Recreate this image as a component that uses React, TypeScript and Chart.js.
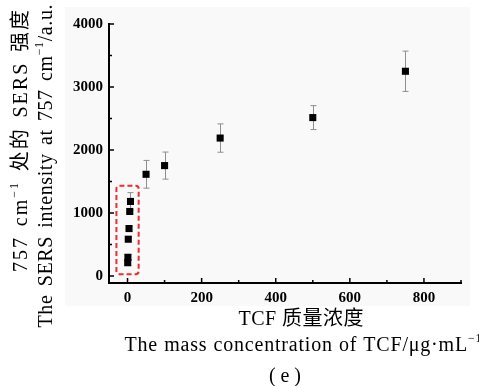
import React, { useEffect, useRef } from 'react';
import { Chart, registerables } from 'chart.js';

Chart.register(...registerables);

// ---- data ----
const concentrations = [0.5, 1, 2, 4, 6, 8, 50, 100, 250, 500, 750];
const intensities = [212, 298, 585, 754, 1025, 1184, 1615, 1753, 2190, 2515, 3250];
const errors = [40, 40, 40, 40, 40, 140, 220, 215, 225, 190, 320];
const xTickValues = [0, 200, 400, 600, 800];
const xMinorValues = [100, 300, 500, 700, 900];
const yTickValues = [0, 1000, 2000, 3000, 4000];
const yMinorValues = [500, 1500, 2500, 3500];
const boxXRange = [-30, 30];
const boxYRange = [30, 1435];

type Seg = { t: string; sup?: boolean };
const yTitleCN: Seg[] = [{ t: '757 cm' }, { t: '−1', sup: true }, { t: ' 处的 SERS 强度' }];
const yTitleEN: Seg[] = [{ t: 'The SERS intensity at 757 cm' }, { t: '−1', sup: true }, { t: '/a.u.' }];
const xTitleCN: Seg[] = [{ t: 'TCF 质量浓度' }];
const xTitleEN: Seg[] = [{ t: 'The mass concentration of TCF/μg·mL' }, { t: '−1', sup: true }];
const caption: Seg[] = [{ t: '(e)' }];

const FONT = '"Liberation Serif", "Noto Sans CJK SC", serif';

function drawRich(
  ctx: CanvasRenderingContext2D,
  segs: Seg[],
  cx: number,
  cy: number,
  size: number,
  target: number,
  angle: number,
  letterGap: number
) {
  ctx.save();
  ctx.translate(cx, cy);
  ctx.rotate(angle);
  const fontFor = (sup: boolean) => `${sup ? size * 0.6 : size}px ${FONT}`;
  const chars: { ch: string; sup: boolean; w: number }[] = [];
  segs.forEach((s) => {
    for (const ch of s.t) chars.push({ ch, sup: !!s.sup, w: 0 });
  });
  let natural = 0;
  chars.forEach((c) => {
    ctx.font = fontFor(c.sup);
    c.w = ctx.measureText(c.ch).width;
    natural += c.w;
  });
  natural += letterGap * (chars.length - 1);
  const spaces = chars.filter((c) => c.ch === ' ').length;
  let wordGap = 0;
  let extraLetter = 0;
  if (target > natural) {
    if (spaces > 0) wordGap = (target - natural) / spaces;
    else extraLetter = (target - natural) / Math.max(1, chars.length - 1);
  }
  const total = Math.max(target, natural);
  let x = -total / 2;
  ctx.textBaseline = 'middle';
  ctx.textAlign = 'left';
  ctx.fillStyle = '#000';
  chars.forEach((c) => {
    ctx.font = fontFor(c.sup);
    ctx.fillText(c.ch, x, c.sup ? -size * 0.35 : 0);
    x += c.w + letterGap + extraLetter + (c.ch === ' ' ? wordGap : 0);
  });
  ctx.restore();
}

const decorPlugin = {
  id: 'decor',
  beforeDraw(chart: any) {
    const ctx = chart.ctx as CanvasRenderingContext2D;
    ctx.save();
    ctx.fillStyle = '#ffffff';
    ctx.fillRect(0, 0, chart.width, chart.height);
    ctx.fillStyle = '#f9f9f9';
    ctx.fillRect(65, 7, 405, 299);
    ctx.restore();
  },
  beforeDatasetsDraw(chart: any) {
    const ctx = chart.ctx as CanvasRenderingContext2D;
    const xs = chart.scales.x;
    const ys = chart.scales.y;
    ctx.save();
    ctx.strokeStyle = '#8f8f8f';
    ctx.lineWidth = 1;
    concentrations.forEach((c, i) => {
      const px = Math.round(xs.getPixelForValue(c)) + 0.5;
      const top = ys.getPixelForValue(intensities[i] + errors[i]);
      const bot = ys.getPixelForValue(intensities[i] - errors[i]);
      ctx.beginPath();
      ctx.moveTo(px, top);
      ctx.lineTo(px, bot);
      ctx.moveTo(px - 3, top);
      ctx.lineTo(px + 3, top);
      ctx.moveTo(px - 3, bot);
      ctx.lineTo(px + 3, bot);
      ctx.stroke();
    });
    const bx0 = xs.getPixelForValue(boxXRange[0]);
    const bx1 = xs.getPixelForValue(boxXRange[1]);
    const by0 = ys.getPixelForValue(boxYRange[1]);
    const by1 = ys.getPixelForValue(boxYRange[0]);
    ctx.strokeStyle = '#ec2d2d';
    ctx.lineWidth = 2;
    ctx.setLineDash([5, 3]);
    ctx.beginPath();
    (ctx as any).roundRect
      ? (ctx as any).roundRect(bx0, by0, bx1 - bx0, by1 - by0, 3)
      : ctx.rect(bx0, by0, bx1 - bx0, by1 - by0);
    ctx.stroke();
    ctx.setLineDash([]);
    ctx.restore();
  },
  afterDraw(chart: any) {
    const ctx = chart.ctx as CanvasRenderingContext2D;
    const xs = chart.scales.x;
    const ys = chart.scales.y;
    const area = chart.chartArea;
    ctx.save();
    ctx.strokeStyle = '#000';
    ctx.lineWidth = 1.5;
    ctx.beginPath();
    xTickValues.forEach((v) => {
      const p = xs.getPixelForValue(v);
      ctx.moveTo(p, area.bottom);
      ctx.lineTo(p, area.bottom - 5);
    });
    xMinorValues.forEach((v) => {
      const p = xs.getPixelForValue(v);
      ctx.moveTo(p, area.bottom);
      ctx.lineTo(p, area.bottom - 3);
    });
    yTickValues.forEach((v) => {
      const p = ys.getPixelForValue(v);
      ctx.moveTo(area.left, p);
      ctx.lineTo(area.left + 5, p);
    });
    yMinorValues.forEach((v) => {
      const p = ys.getPixelForValue(v);
      ctx.moveTo(area.left, p);
      ctx.lineTo(area.left + 3, p);
    });
    ctx.stroke();
    ctx.restore();

    drawRich(ctx, yTitleCN, 22, 141, 20, 262, -Math.PI / 2, 2);
    drawRich(ctx, yTitleEN, 47, 166, 20, 323, -Math.PI / 2, 0.6);
    drawRich(ctx, xTitleCN, 301, 320, 20, 123, 0, 0.5);
    drawRich(ctx, xTitleEN, 303, 346, 20, 357, 0, 0.8);
    drawRich(ctx, caption, 285, 377, 20, 32, 0, 0);
  },
};

export default function App() {
  const ref = useRef<HTMLCanvasElement | null>(null);
  useEffect(() => {
    document.body.style.margin = '0';
    const canvas = ref.current!;
    const tickFont = { family: '"Liberation Serif", serif', size: 15, weight: 'bold' as const };
    const chart = new Chart(canvas, {
      type: 'scatter',
      data: {
        datasets: [
          {
            data: concentrations.map((x, i) => ({ x, y: intensities[i] })),
            pointStyle: 'rect',
            pointRadius: 5,
            backgroundColor: '#000',
            borderColor: '#000',
            borderWidth: 0,
          },
        ],
      },
      options: {
        responsive: false,
        animation: false,
        devicePixelRatio: 1,
        layout: { padding: { left: 65, top: 24, right: 18, bottom: 73 } },
        plugins: { legend: { display: false }, tooltip: { enabled: false } },
        scales: {
          x: {
            type: 'linear',
            min: -50,
            max: 900,
            afterBuildTicks: (s: any) => {
              s.ticks = xTickValues.map((v) => ({ value: v }));
            },
            afterFit: (s: any) => {
              s.height = 30;
            },
            grid: { display: false, drawTicks: false },
            border: { display: true, color: '#000', width: 2 },
            ticks: { padding: 6, font: tickFont, color: '#000', maxRotation: 0, callback: (v: any) => String(v) },
          },
          y: {
            type: 'linear',
            min: -110,
            max: 4000,
            afterBuildTicks: (s: any) => {
              s.ticks = yTickValues.map((v) => ({ value: v }));
            },
            afterFit: (s: any) => {
              s.width = 44;
            },
            grid: { display: false, drawTicks: false },
            border: { display: true, color: '#000', width: 2 },
            ticks: { padding: 6, font: tickFont, color: '#000', callback: (v: any) => String(v) },
          },
        },
      },
      plugins: [decorPlugin],
    });
    return () => chart.destroy();
  }, []);
  return <canvas ref={ref} width={479} height={386} style={{ display: 'block', width: 479, height: 386 }} />;
}
